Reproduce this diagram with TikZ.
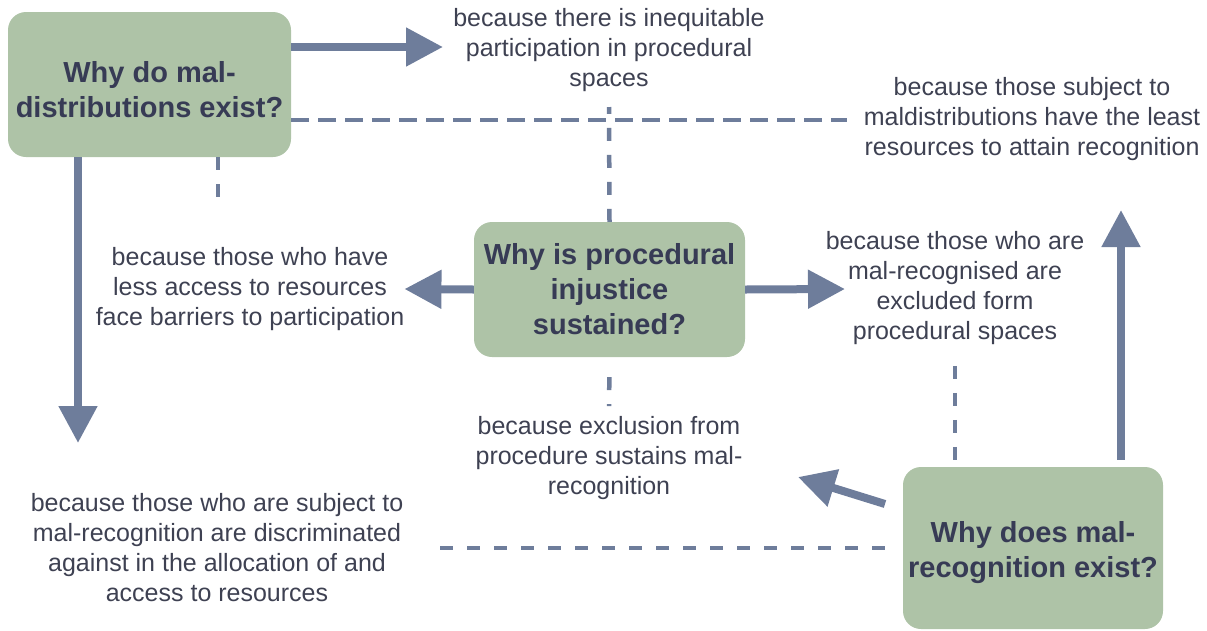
\documentclass[tikz,border=0pt]{standalone}
\usepackage{fontspec}
\setmainfont{Liberation Sans}
\usetikzlibrary{arrows.meta}

\definecolor{boxgreen}{HTML}{AEC3A7}
\definecolor{boxtext}{HTML}{373B55}
\definecolor{labeltext}{HTML}{3E4152}
\definecolor{linkblue}{HTML}{6E7D9B}

\begin{document}
\begin{tikzpicture}[x=1pt,y=-1pt,
  question/.style={fill=boxgreen,rounded corners=18pt,inner sep=0pt,align=center,
    text=boxtext,font=\fontsize{29}{35}\selectfont\bfseries},
  answer/.style={inner sep=0pt,align=center,text=labeltext,font=\fontsize{25}{30}\selectfont},
  thick link/.style={color=linkblue,line width=8pt,-{Triangle[length=37pt,width=37pt]}},
  weak link/.style={color=linkblue,line width=4.5pt,dash pattern=on 13pt off 14pt}]
\useasboundingbox (0,0) rectangle (1207,630);

% the three questions
\node [question,minimum width=283pt,minimum height=145pt] (v0) at (149.5,84.5) {\rule{0pt}{31pt}Why do mal-\\distributions exist?};
\node [question,minimum width=271pt,minimum height=135pt] (v1) at (609.5,289.5) {Why is procedural\\injustice\\sustained?};
\node [question,minimum width=260pt,minimum height=162pt] (v2) at (1033,548) {\rule{0pt}{31pt}Why does mal-\\recognition exist?};

% the answers
\node [answer] (v3) at (609,50) {because there is inequitable\\participation in procedural\\spaces};
\node [answer] (v4) at (1032,119) {because those subject to\\maldistributions have the least\\resources to attain recognition};
\node [answer] (v5) at (250,289) {because those who have\\less access to resources\\face barriers to participation};
\node [answer] (v6) at (955,288) {because those who are\\mal-recognised are\\excluded form\\procedural spaces};
\node [answer] (v7) at (609,458) {because exclusion from\\procedure sustains mal-\\recognition};
\node [answer] (v8) at (217,548) {because those who are subject to\\mal-recognition are discriminated\\against in the allocation of and\\access to resources};

% free ends
\coordinate (c0) at (443,47);
\coordinate (c1) at (78,443);
\coordinate (c2) at (845,289);
\coordinate (c3) at (798,477);
\coordinate (c4) at (885,504);
\coordinate (c5) at (1121,210);
\coordinate (c6) at (847,120);
\coordinate (c7) at (609,107);
\coordinate (c8) at (218,198);

\draw [thick link] (v0.east |- c0) -- (c0);
\draw [thick link] (v0.south -| c1) -- (c1);
\draw [thick link] (v1.west) -- (v5.east);
\draw [thick link] (v1.east) -- (c2);
\draw [thick link] (c4) -- (c3);
\draw [thick link,shorten <=7pt] (v2.north -| c5) -- (c5);

\draw [weak link,dash pattern=on 18pt off 9pt] (v0.east |- c6) -- (c6);
\draw [weak link] (v1.north) -- (c7);
\draw [weak link] (v0.south -| c8) -- (c8);
\draw [weak link,shorten <=20pt,shorten >=10pt] (v1.south) -- (v7.north);
\draw [weak link,shorten <=21pt,shorten >=7pt] (v6.south) -- (v6.south |- v2.north);
\draw [weak link,shorten <=18pt,shorten >=35pt] (v2.west) -- (v8.east |- v2.west);
\end{tikzpicture}
\end{document}
